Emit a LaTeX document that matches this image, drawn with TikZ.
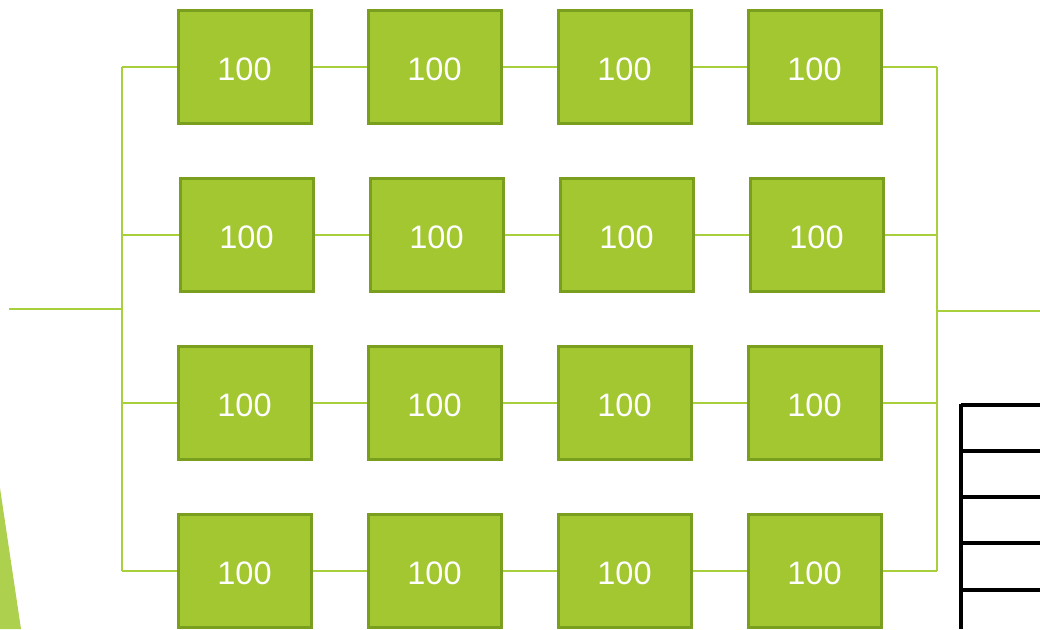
\documentclass[tikz,border=0pt]{standalone}
\usepackage{fontspec}
\setmainfont{Liberation Sans}
\definecolor{boxfill}{HTML}{A2C731}
\definecolor{boxedge}{HTML}{7A9F1F}
\definecolor{wire}{HTML}{A8CF3C}
\definecolor{tri}{HTML}{ADD04E}
\begin{document}
\begin{tikzpicture}[x=1pt,y=-1pt,
  cell/.style={draw=boxedge,fill=boxfill,line width=3pt,minimum width=133pt,minimum height=113pt,inner sep=0pt,text=white,font=\fontsize{32.5}{36}\selectfont,text height=27.3pt,text depth=0pt,anchor=center},
  wire/.style={draw=wire,line width=2pt},
  rule/.style={draw=black,line width=3.5pt}]
\useasboundingbox (0,0) rectangle (1040,629);
% green triangle
\fill[tri] (0,488) -- (21,629) -- (0,629) -- cycle;
% table
\draw[rule] (961,629) -- (961,404);
\foreach \yy in {405,451,497,543,590} \draw[rule] (961,\yy) -- (1040,\yy);
% boxes
\foreach \r/\yc/\dx in {1/66.5/0,2/234.5/2,3/402.5/0,4/570.5/0}{
  \foreach \c/\xc in {1/244.5,2/434.5,3/624.5,4/814.5}{
    \node[cell] (b\r\c) at (\xc+\dx,\yc) {100};
  }
}
% buses
\coordinate (lt) at (122,66.5);
\coordinate (lb) at (122,570.5);
\coordinate (lin) at (122,309);
\coordinate (in) at (9,309);
\coordinate (rt) at (937,66.5);
\coordinate (rb) at (937,570.5);
\coordinate (rout) at (937,311);
\coordinate (out) at (1040,311);
\draw[wire] (lt) -- (lb);
\draw[wire] (in) -- (lin);
\draw[wire] (rt) -- (rb);
\draw[wire] (rout) -- (out);
\foreach \r in {1,2,3,4}{
  \draw[wire] (b\r1.west) -- (b\r1.west -| lt);
  \draw[wire] (b\r1.east) -- (b\r2.west);
  \draw[wire] (b\r2.east) -- (b\r3.west);
  \draw[wire] (b\r3.east) -- (b\r4.west);
  \draw[wire] (b\r4.east) -- (b\r4.east -| rt);
}
\end{tikzpicture}
\end{document}
